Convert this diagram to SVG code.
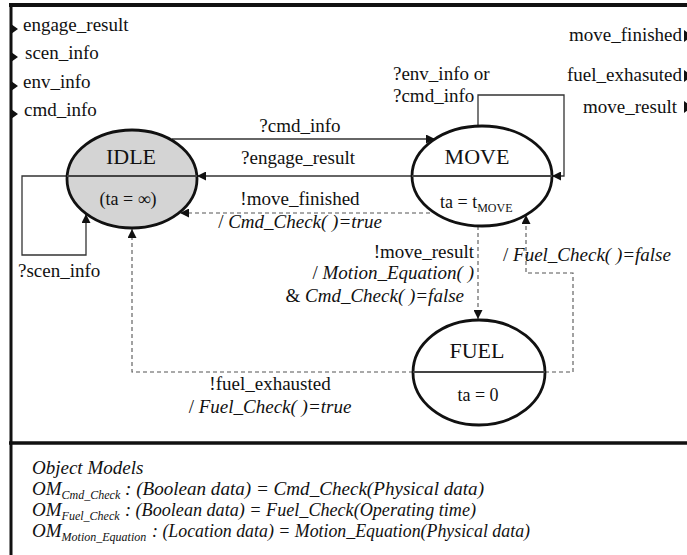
<svg xmlns="http://www.w3.org/2000/svg" width="687" height="555" viewBox="0 0 687 555" font-family="'Liberation Serif','Times New Roman',serif">
<defs>
<style>
text{font-family:"Liberation Serif","Times New Roman",serif;fill:#111;}
.lb{font-size:19px;}
.st{font-size:22px;}
.ta{font-size:18px;}
.it{font-style:italic;}
.sub{font-size:12px;}
.frame{stroke:#111;fill:none;}
.state{stroke:#111;stroke-width:2.8;}
.div{stroke:#444;stroke-width:2;}
.solid{stroke:#333;stroke-width:1.3;fill:none;}
.dash{stroke:#555;stroke-width:1.1;fill:none;stroke-dasharray:4 3;}
</style>
<marker id="ah" viewBox="0 0 10 10" refX="10" refY="5" markerWidth="10" markerHeight="9" markerUnits="userSpaceOnUse" orient="auto">
<path d="M0,0 L10,5 L0,10 z" fill="#111"/>
</marker>
</defs>
<rect width="687" height="555" fill="#fff"/>

<g id="frame">
<line class="frame" x1="9" y1="5" x2="687" y2="5" stroke-width="4"/>
<line class="frame" x1="11" y1="3" x2="11" y2="555" stroke-width="3"/>
<line class="frame" x1="9" y1="443" x2="687" y2="443" stroke-width="3.5"/>
<path d="M11,24 L18,29 L11,34 z M11,52 L18,57 L11,62 z M11,81 L18,86 L11,91 z M11,109 L18,114 L11,119 z" fill="#111"/>
<path d="M684,30 L692,36 L684,42 z M684,70 L692,76 L684,82 z M684,101 L692,107 L684,113 z" fill="#111"/>
</g>

<g id="ports">
<text class="lb" x="23" y="31">engage_result</text>
<text class="lb" x="25" y="59">scen_info</text>
<text class="lb" x="23" y="88">env_info</text>
<text class="lb" x="24" y="116">cmd_info</text>
<text class="lb" x="682" y="41" text-anchor="end">move_finished</text>
<text class="lb" x="682" y="81" text-anchor="end">fuel_exhasuted</text>
<text class="lb" x="677" y="113" text-anchor="end">move_result</text>
</g>

<g id="connectors">
<line class="solid" x1="172" y1="139" x2="435" y2="139" marker-end="url(#ah)"/>
<line class="solid" x1="412" y1="176" x2="197" y2="176" marker-end="url(#ah)"/>
<path class="solid" d="M67,176 L22,176 L22,255 L86,255 L86,214" marker-end="url(#ah)"/>
<path class="solid" d="M478,126 L478,95 L564,95 L564,176 L552,176" marker-end="url(#ah)"/>
<line class="dash" x1="430" y1="213" x2="180" y2="213" marker-end="url(#ah)"/>
<line class="dash" x1="478" y1="226" x2="478" y2="319" marker-end="url(#ah)"/>
<path class="dash" d="M413,372 L132,372 L132,229" marker-end="url(#ah)"/>
<path class="dash" d="M545,372 L573,372 L573,273 L526,273 L526,215" marker-end="url(#ah)"/>
</g>

<g id="labels">
<text class="lb" x="300" y="132" text-anchor="middle">?cmd_info</text>
<text class="lb" x="298" y="164" text-anchor="middle">?engage_result</text>
<text class="lb" x="300" y="205" text-anchor="middle">!move_finished</text>
<text class="lb" x="300" y="228" text-anchor="middle">/ <tspan class="it">Cmd_Check( )=true</tspan></text>
<text class="lb" x="18" y="277">?scen_info</text>
<text class="lb" x="393" y="80">?env_info or</text>
<text class="lb" x="393" y="102">?cmd_info</text>
<text class="lb" x="474" y="258" text-anchor="end">!move_result</text>
<text class="lb" x="474" y="279" text-anchor="end">/ <tspan class="it">Motion_Equation( )</tspan></text>
<text class="lb" x="464" y="302" text-anchor="end">&amp; <tspan class="it">Cmd_Check( )=false</tspan></text>
<text class="lb" x="503" y="261">/ <tspan class="it">Fuel_Check( )=false</tspan></text>
<text class="lb" x="270" y="390" text-anchor="middle">!fuel_exhausted</text>
<text class="lb" x="270" y="413" text-anchor="middle">/ <tspan class="it">Fuel_Check( )=true</tspan></text>
</g>

<g id="IDLE">
<ellipse class="state" cx="132" cy="179" rx="65" ry="49" fill="#d4d4d4"/>
<line class="div" x1="67" y1="176" x2="197" y2="176"/>
<text class="st" x="131" y="164" text-anchor="middle">IDLE</text>
<text class="ta" x="128" y="205" text-anchor="middle">(ta = ∞)</text>
</g>

<g id="MOVE">
<ellipse class="state" cx="482" cy="176" rx="70" ry="50" fill="none"/>
<line class="div" x1="412" y1="176" x2="552" y2="176"/>
<text class="st" x="477" y="164" text-anchor="middle">MOVE</text>
<text class="ta" x="440" y="208">ta = t<tspan class="sub" dy="4">MOVE</tspan></text>
</g>

<g id="FUEL">
<ellipse class="state" cx="479" cy="372.5" rx="66" ry="52.5" fill="none"/>
<line class="div" x1="413" y1="372" x2="545" y2="372"/>
<text class="st" x="477" y="358" text-anchor="middle">FUEL</text>
<text class="ta" x="478" y="401" text-anchor="middle">ta = 0</text>
</g>

<g id="object-models">
<text class="lb it" x="32" y="474">Object Models</text>
<text class="lb it" x="32" y="495">OM<tspan class="sub" dy="4">Cmd_Check</tspan></text>
<text class="lb it" x="125" y="495" textLength="359" lengthAdjust="spacingAndGlyphs">: (Boolean data) = Cmd_Check(Physical data)</text>
<text class="lb it" x="32" y="516">OM<tspan class="sub" dy="4">Fuel_Check</tspan></text>
<text class="lb it" x="125" y="516" textLength="351" lengthAdjust="spacingAndGlyphs">: (Boolean data) = Fuel_Check(Operating time)</text>
<text class="lb it" x="32" y="537">OM<tspan class="sub" dy="4">Motion_Equation</tspan></text>
<text class="lb it" x="152" y="537" textLength="378" lengthAdjust="spacingAndGlyphs">: (Location data) = Motion_Equation(Physical data)</text>
</g>
</svg>
